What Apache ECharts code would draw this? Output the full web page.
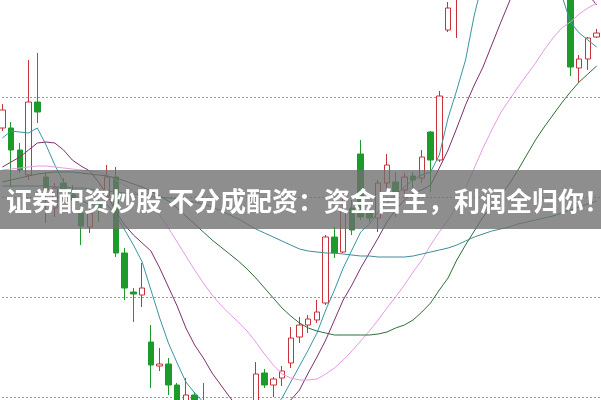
<!DOCTYPE html>
<html><head><meta charset="utf-8">
<script src="https://cdn.jsdelivr.net/npm/echarts@6/dist/echarts.min.js"></script>
<style>html,body{margin:0;padding:0;background:#fff}#c{width:601px;height:400px}</style>
</head><body><div id="c"></div>
<script>
// [open, close, low, high]
const candles = [
[12.69,12.87,12.66,12.93],[12.69,12.47,12.10,12.75],[12.47,12.27,12.24,12.54],[12.22,12.95,12.17,13.37],
[12.95,12.85,12.74,13.44],[12.20,12.07,11.74,12.25],[11.89,12.09,11.80,12.14],[12.14,12.07,11.97,12.19],
[12.02,11.97,11.84,12.12],[11.84,11.71,11.52,11.92],[11.70,11.84,11.64,11.92],[11.94,11.89,11.75,12.00],
[12.00,12.20,11.97,12.32],[12.20,11.44,11.40,12.30],[11.44,11.09,10.97,11.49],[11.05,11.03,10.75,11.09],
[11.02,11.09,10.90,11.34],[10.55,10.32,10.09,10.72],[10.31,10.33,10.26,10.49],[10.33,10.12,10.02,10.39],
[10.12,9.92,9.87,10.14],[9.92,10.02,9.87,10.19],[10.02,9.87,9.82,10.05],[9.95,9.77,9.67,10.14],
[9.78,9.66,9.58,9.88],[9.66,9.58,9.50,9.72],[9.57,9.62,9.49,9.70],[9.62,9.55,9.45,9.68],
[9.55,9.74,9.50,9.86],[9.92,10.23,9.87,10.35],[10.24,10.12,10.09,10.28],[10.12,10.18,10.00,10.20],
[10.19,10.26,10.11,10.31],[10.34,10.59,10.29,10.70],[10.60,10.72,10.54,10.80],[10.72,10.78,10.64,10.82],
[10.77,10.85,10.74,10.97],[10.94,11.60,10.92,11.62],[11.60,11.44,11.39,11.70],[11.45,11.87,11.44,12.00],
[11.89,11.67,11.62,11.97],[12.43,11.80,11.77,12.57],[11.85,11.79,11.75,11.92],[11.79,12.14,11.65,12.17],
[12.14,12.32,12.09,12.43],[12.15,12.05,11.80,12.25],[12.07,12.20,11.99,12.24],[12.21,12.17,12.09,12.25],
[12.19,12.40,12.14,12.47],[12.65,12.37,12.05,12.66],[12.37,13.01,12.35,13.06],[13.67,13.89,13.65,13.95],
[14.05,14.40,13.59,14.50],[14.45,14.80,14.30,14.90],[14.80,15.10,14.70,15.20],[15.10,15.00,14.85,15.30],
[15.00,15.30,14.90,15.40],[15.30,15.20,15.05,15.45],[15.20,15.50,15.10,15.60],[15.50,15.35,15.20,15.65],
[15.35,15.10,14.95,15.45],[15.10,14.90,14.70,15.20],[14.90,15.00,14.75,15.10],[15.00,14.70,14.55,15.05],
[14.70,14.50,14.35,14.80],[14.27,13.30,13.21,14.37],[13.29,13.38,13.15,13.42],[13.38,13.59,13.27,13.60],
[13.60,13.64,13.59,13.68]
];
const ma5 = [12.59,12.66,12.65,12.64,12.69,12.52,12.32,12.15,12.05,11.97,11.92,11.92,11.92,11.82,11.67,11.52,11.35,11.07,10.79,10.54,10.34,10.15,10.04,9.95,9.87,9.79,9.73,9.71,9.72,9.75,9.79,9.87,9.99,10.15,10.31,10.47,10.64,10.87,11.07,11.29,11.47,11.65,11.73,11.85,11.94,12.02,12.10,12.17,12.22,12.25,12.42,12.79,13.07,13.37,13.82,14.17,14.37,14.47,14.52,14.57,14.57,14.52,14.42,14.22,14.02,13.75,13.64,13.57,13.50];
const ma10 = [12.30,12.35,12.40,12.47,12.54,12.55,12.54,12.47,12.37,12.31,12.26,12.15,12.02,11.85,11.72,11.62,11.54,11.46,11.29,11.10,10.91,10.69,10.52,10.39,10.24,10.12,10.00,9.89,9.83,9.79,9.79,9.83,9.89,9.97,10.07,10.24,10.40,10.57,10.77,10.97,11.12,11.29,11.44,11.59,11.75,11.87,11.97,12.04,12.07,12.12,12.29,12.47,12.69,12.92,13.12,13.30,13.52,13.74,13.95,14.17,14.32,14.42,14.47,14.42,14.32,14.22,14.12,14.03,13.92];
const ma20 = [12.27,12.28,12.29,12.30,12.31,12.31,12.30,12.29,12.28,12.27,12.26,12.25,12.22,12.17,12.12,12.06,12.00,11.93,11.82,11.69,11.55,11.41,11.27,11.14,11.02,10.92,10.83,10.75,10.66,10.55,10.43,10.32,10.23,10.19,10.17,10.17,10.18,10.23,10.29,10.37,10.46,10.56,10.66,10.77,10.89,11.00,11.12,11.25,11.37,11.52,11.65,11.77,11.92,12.09,12.29,12.49,12.67,12.84,12.97,13.10,13.22,13.34,13.47,13.59,13.69,13.75,13.83,13.89,13.94];
const ma30 = [12.15,12.17,12.19,12.21,12.23,12.24,12.25,12.25,12.25,12.24,12.23,12.22,12.21,12.19,12.16,12.13,12.10,12.06,12.01,11.96,11.89,11.81,11.73,11.65,11.57,11.50,11.43,11.36,11.28,11.19,11.09,10.99,10.89,10.81,10.74,10.69,10.66,10.64,10.62,10.62,10.62,10.62,10.62,10.63,10.65,10.69,10.72,10.77,10.85,10.94,11.07,11.19,11.37,11.52,11.66,11.80,11.91,12.01,12.13,12.27,12.42,12.57,12.70,12.82,12.94,13.05,13.15,13.23,13.31];
const ma60 = [12.11,12.11,12.11,12.11,12.11,12.11,12.10,12.10,12.09,12.09,12.08,12.07,12.06,12.05,12.04,12.03,12.02,12.01,12.00,11.99,11.98,11.97,11.95,11.93,11.90,11.86,11.82,11.78,11.73,11.68,11.64,11.60,11.56,11.52,11.48,11.46,11.45,11.44,11.44,11.43,11.42,11.41,11.41,11.40,11.40,11.40,11.40,11.41,11.43,11.45,11.47,11.49,11.52,11.56,11.60,11.63,11.66,11.68,11.70,11.73,11.75,11.77,11.79,11.81,11.84,11.87,11.90,11.93,11.96];
const categories = candles.map((d, i) => 'D' + (i + 1));
const bannerText = '证券配资炒股 不分成配资：资金自主，利润全归你！';

const chart = echarts.init(document.getElementById('c'), null, {renderer: 'canvas'});
const lineS = (name, data, color) => ({
  name, type: 'line', data, symbol: 'none', smooth: false, animation: false,
  lineStyle: {width: 1, color}, z: 3
});
chart.setOption({
  animation: false,
  backgroundColor: '#ffffff',
  grid: {left: -2, right: 0, top: -3, height: 500, outerBoundsMode: 'none', containLabel: false},
  xAxis: {type: 'category', data: categories, boundaryGap: true,
    axisLine: {show: false}, axisTick: {show: false}, axisLabel: {show: false}, splitLine: {show: false}},
  yAxis: {type: 'value', min: 9, max: 14, interval: 1,
    axisLine: {show: false}, axisTick: {show: false}, axisLabel: {show: false},
    splitLine: {show: true, lineStyle: {color: '#9a9a9a', type: [2, 2], width: 1}}},
  series: [
    {type: 'candlestick', data: candles, barWidth: 6, z: 2,
      itemStyle: {color: '#ffffff', color0: '#1c9a2a', borderColor: '#c8323a', borderColor0: '#1c9a2a', borderWidth: 1}},
    lineS('MA5', ma5, '#3597a6'),
    lineS('MA10', ma10, '#7d2f6e'),
    lineS('MA20', ma20, '#e49be6'),
    lineS('MA30', ma30, '#2f6e38'),
    lineS('MA60', ma60, '#3d8d99')
  ],
  graphic: [
    {type: 'rect', z: 100, shape: {x: 0, y: 170, width: 601, height: 59},
      style: {fill: 'rgba(110,110,110,0.78)'}},
    {type: 'text', z: 101, x: 308, y: 201,
      style: {text: bannerText, fill: '#ffffff', font: 'bold 26px "Noto Sans CJK SC"',
        align: 'center', verticalAlign: 'middle', textAlign: 'center', textVerticalAlign: 'middle'}}
  ]
});
</script></body></html>
